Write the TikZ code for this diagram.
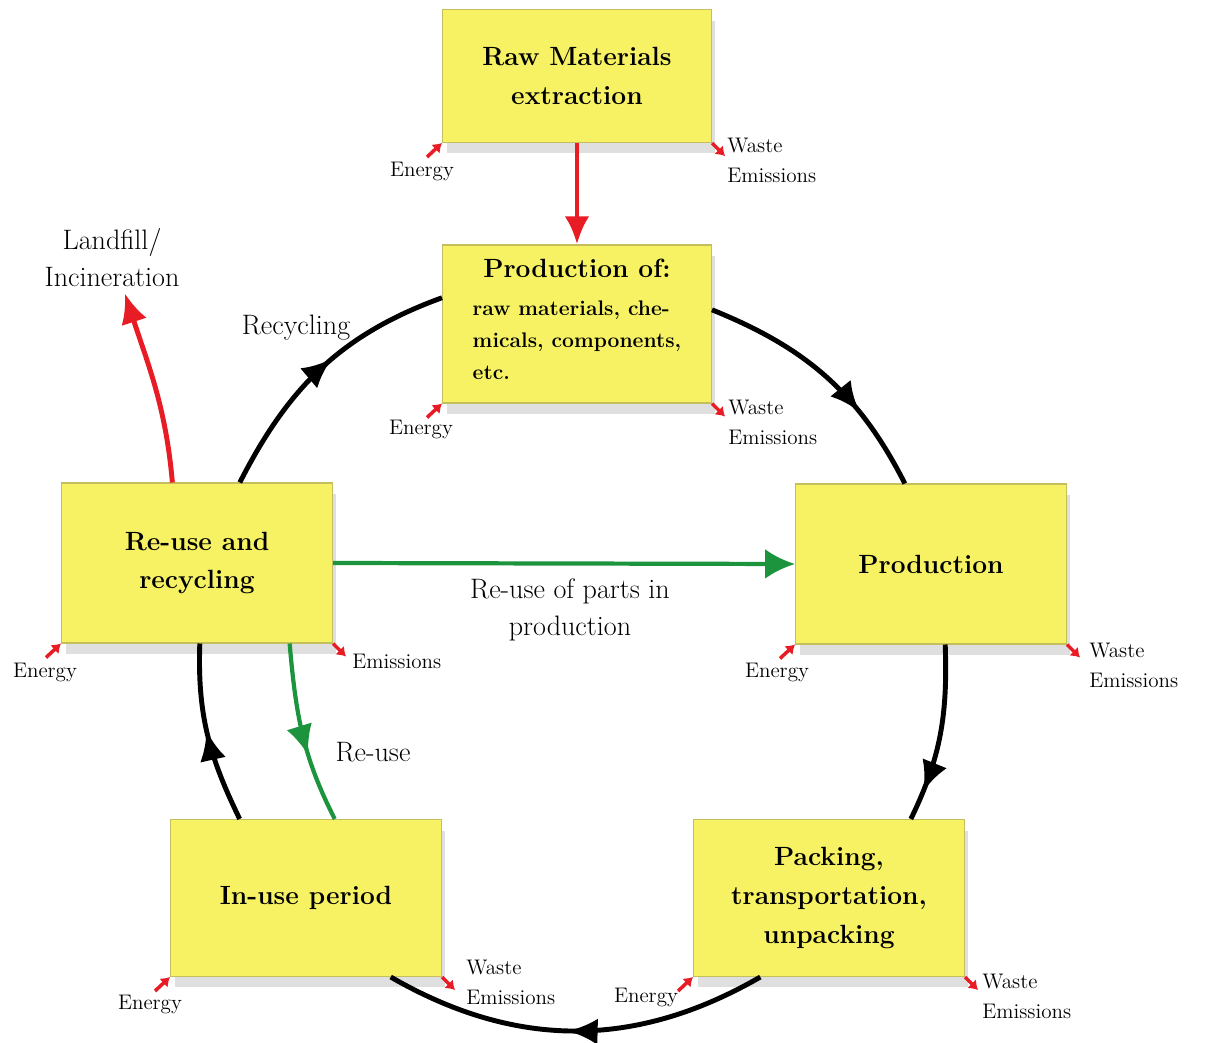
\documentclass[tikz,border=0pt]{standalone}
\usepackage{xcolor}
\usepackage{tikz}
\usetikzlibrary{arrows.meta,decorations.markings,shadows}
\definecolor{postit}{RGB}{246,242,100}
\definecolor{postitedge}{RGB}{196,190,92}
\definecolor{lcared}{RGB}{232,28,36}
\definecolor{lcagreen}{RGB}{28,148,62}

\begin{document}
\begin{tikzpicture}[x=0.02cm,y=0.02cm,
  stage/.style={draw=postitedge,line width=0.6pt,fill=postit,minimum width=5.42cm,minimum height=3.2cm,align=center,font=\bfseries\fontsize{15}{22}\selectfont,drop shadow={shadow xshift=0.8mm,shadow yshift=-2.2mm,opacity=0.25}},
  note/.style={inner sep=0pt,align=left,font=\fontsize{12}{17}\selectfont},
  caption/.style={align=center,font=\fontsize{16}{21}\selectfont},
  loopline/.style={line width=2.8pt},
  midarrow/.style={postaction={decorate,decoration={markings,mark=at position #1 with {\arrow{Latex[length=17pt,width=15pt]}}}}},
  tick/.style={lcared,line width=2pt,-{Latex[length=5pt,width=7pt]}}]
\useasboundingbox (0,0) rectangle (1206,1042);
% life cycle stages
\node[stage,minimum width=5.38cm,minimum height=2.66cm] (raw) at (577,966) {Raw Materials\\extraction};
\node[stage,minimum width=5.38cm,minimum height=3.16cm] (prodof) at (577,718) {Production of:\\[8pt]{\fontsize{12}{18}\selectfont\begin{tabular}{@{}l@{}}raw materials, che-\\micals, components,\\etc.\end{tabular}}};
\node[stage] (prod) at (931,478) {Production};
\node[stage] (reuse) at (197,479) {Re-use and\\recycling};
\node[stage,minimum height=3.14cm] (inuse) at (306,144) {In-use period};
\node[stage,minimum height=3.14cm] (pack) at (829,144) {Packing,\\transportation,\\unpacking};
% free labels
\node[caption] (landfill) at (112,784) {Landfill/\\Incineration};
\node[caption] (recyc) at (296,714) {Recycling};
\node[caption] (partsre) at (570,432) {Re-use of parts in\\production};
\node[caption] (reusel) at (373,290) {Re-use};
% energy and waste notes
\node[note] (enraw) at (422,871) {Energy};
\node[note] (enprodof) at (421,613) {Energy};
\node[note] (enreuse) at (45,370) {Energy};
\node[note] (enprod) at (777,370) {Energy};
\node[note] (eninuse) at (150,38) {Energy};
\node[note] (enpack) at (646,45) {Energy};
\node[note,anchor=west] (wsraw) at (727,882) {Waste\\Emissions};
\node[note,anchor=west] (wsprodof) at (728,620) {Waste\\Emissions};
\node[note,anchor=west] (wsreuse) at (352,381) {Emissions};
\node[note,anchor=west] (wsprod) at (1089,377) {Waste\\Emissions};
\node[note,anchor=west] (wsinuse) at (466,60) {Waste\\Emissions};
\node[note,anchor=west] (wspack) at (982,46) {Waste\\Emissions};
\draw[tick] ([shift={(-15,-14)}]raw.south west) -- (raw.south west);
\draw[tick] (raw.south east) -- ++(13,-13);
\draw[tick] ([shift={(-15,-14)}]prodof.south west) -- (prodof.south west);
\draw[tick] (prodof.south east) -- ++(13,-13);
\draw[tick] ([shift={(-15,-14)}]reuse.south west) -- (reuse.south west);
\draw[tick] (reuse.south east) -- ++(13,-13);
\draw[tick] ([shift={(-15,-14)}]prod.south west) -- (prod.south west);
\draw[tick] (prod.south east) -- ++(13,-13);
\draw[tick] ([shift={(-15,-14)}]inuse.south west) -- (inuse.south west);
\draw[tick] (inuse.south east) -- ++(13,-13);
\draw[tick] ([shift={(-15,-14)}]pack.south west) -- (pack.south west);
\draw[tick] (pack.south east) -- ++(13,-13);
% main cycle
\draw[loopline,midarrow=0.68] (prodof.6) to[out=-22,in=117] (prod.108);
\draw[loopline,midarrow=0.83] (prod.-80) to[out=-88,in=64] (pack.44);
\draw[loopline,midarrow=0.52] (pack.-131) to[out=-150,in=-30] (inuse.-43);
\draw[loopline,midarrow=0.52] (inuse.130) to[out=116,in=-92] (reuse.-88);
\draw[loopline,midarrow=0.55] (reuse.62) to[out=63,in=-160] (prodof.169);
% red and green flows
\draw[lcared,line width=2.8pt,-{Latex[length=16pt,width=14pt]}] (raw.south) -- (prodof.north);
\draw[lcared,line width=2.8pt,-{Latex[length=17pt,width=15pt]}] (reuse.107) to[out=95,in=-72] (landfill.-70);
\draw[lcagreen,line width=2.4pt,-{Latex[length=17pt,width=17pt]}] (reuse.east) -- (prod.west);
\draw[lcagreen,line width=2.4pt,midarrow=0.62] (reuse.-41) to[out=-85,in=117] (inuse.70);
\end{tikzpicture}
\end{document}
